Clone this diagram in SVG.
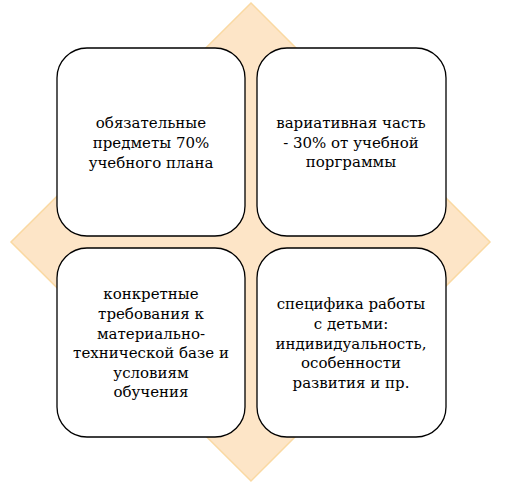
<svg xmlns="http://www.w3.org/2000/svg" width="507" height="485" viewBox="0 0 507 485">
<style>
.bg{fill:#fde5c7;stroke:#fad9a2;stroke-width:1.5}
.box{fill:#ffffff;stroke:#000000;stroke-width:1.3}
.t{font-family:"DejaVu Serif","Liberation Serif",serif;font-size:15px;fill:#000000;text-anchor:middle}
</style>
<rect width="507" height="485" fill="#ffffff"/>
<g id="diamond">
<polygon class="bg" points="251,3 490,242 251,481 11,242"/>
</g>
<g id="connectors"></g>
<g id="node1">
<rect class="box" x="57" y="48" width="188" height="188" rx="30" ry="30"/>
<text class="t" x="151" y="128">обязательные</text>
<text class="t" x="151" y="148">предметы 70%</text>
<text class="t" x="151" y="168">учебного плана</text>
</g>
<g id="node2">
<rect class="box" x="257" y="48" width="189" height="188" rx="30" ry="30"/>
<text class="t" x="351" y="128">вариативная часть</text>
<text class="t" x="351" y="148">- 30% от учебной</text>
<text class="t" x="351" y="167">порграммы</text>
</g>
<g id="node3">
<rect class="box" x="57" y="248" width="188" height="189" rx="30" ry="30"/>
<text class="t" x="151" y="299">конкретные</text>
<text class="t" x="151" y="319">требования к</text>
<text class="t" x="151" y="339">материально-</text>
<text class="t" x="151" y="358">технической базе и</text>
<text class="t" x="151" y="378">условиям</text>
<text class="t" x="151" y="397">обучения</text>
</g>
<g id="node4">
<rect class="box" x="257" y="248" width="189" height="189" rx="30" ry="30"/>
<text class="t" x="351" y="309">специфика работы</text>
<text class="t" x="351" y="329">с детьми:</text>
<text class="t" x="351" y="349">индивидуальность,</text>
<text class="t" x="351" y="368">особенности</text>
<text class="t" x="351" y="388">развития и пр.</text>
</g>
</svg>
